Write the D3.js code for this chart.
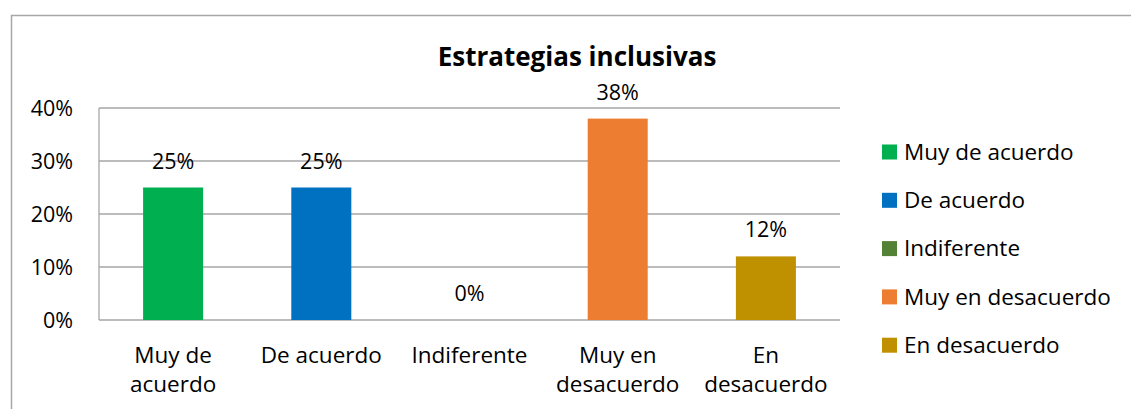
<!DOCTYPE html>
<html><head><meta charset="utf-8">
<script src="https://cdn.jsdelivr.net/npm/d3@7"></script>
<style>body{margin:0;background:#fff}svg{display:block}text{font-family:"Open Sans",sans-serif;fill:#000}</style>
</head><body><svg id="c" width="1131" height="409"></svg>
<script>
const categories = ["Muy de acuerdo","De acuerdo","Indiferente","Muy en desacuerdo","En desacuerdo"];
const axisLabels = [["Muy de","acuerdo"],["De acuerdo"],["Indiferente"],["Muy en","desacuerdo"],["En","desacuerdo"]];
const values = [0.25,0.25,0,0.38,0.12];
const valueLabels = ["25%","25%","0%","38%","12%"];
const colors = ["#00B050","#0070C0","#548235","#ED7D31","#BF9000"];
const yTicks = [0,0.1,0.2,0.3,0.4];
const title = "Estrategias inclusivas";

const svg = d3.select("#c");
const fsNum = 21.5, fsTxt = 22.5;
svg.append("rect").attr("x",11.5).attr("y",15.5).attr("width",1200).attr("height",500)
  .attr("fill","none").attr("stroke","#A6A6A6").attr("stroke-width",1.5);

const x = d3.scaleBand().domain(categories).range([99,840]).paddingInner(0.595).paddingOuter(0.2975);
const y = d3.scaleLinear().domain([0,0.4]).range([320,108]);

const grid = svg.append("g");
grid.selectAll("line").data(yTicks).join("line")
  .attr("x1",99).attr("x2",840).attr("y1",d=>y(d)).attr("y2",d=>y(d))
  .attr("stroke","#A6A6A6").attr("stroke-width",1.3);
svg.append("line").attr("x1",99).attr("x2",99).attr("y1",y(0.4)).attr("y2",y(0))
  .attr("stroke","#A6A6A6").attr("stroke-width",1.3);

svg.append("g").selectAll("text").data(yTicks).join("text")
  .attr("x",73).attr("y",d=>y(d)).attr("dy","0.35em").attr("text-anchor","end")
  .attr("font-size",fsNum).text(d=>d3.format(".0%")(d));

svg.append("g").selectAll("rect").data(values).join("rect")
  .attr("x",(d,i)=>x(categories[i])).attr("width",x.bandwidth())
  .attr("y",d=>y(d)).attr("height",d=>y(0)-y(d)).attr("fill",(d,i)=>colors[i]);

svg.append("g").selectAll("text").data(values).join("text")
  .attr("x",(d,i)=>x(categories[i])+x.bandwidth()/2).attr("y",d=>y(d)-19)
  .attr("text-anchor","middle").attr("font-size",fsNum).text((d,i)=>valueLabels[i]);

const xl = svg.append("g").selectAll("text").data(axisLabels).join("text")
  .attr("x",(d,i)=>x(categories[i])+x.bandwidth()/2).attr("y",363)
  .attr("text-anchor","middle").attr("font-size",fsTxt);
xl.selectAll("tspan").data(d=>d).join("tspan")
  .attr("x",function(){return this.parentNode.getAttribute("x");})
  .attr("dy",(d,j)=>j?29:0).text(d=>d);

svg.append("text").attr("x",577).attr("y",66).attr("text-anchor","middle")
  .attr("font-size",26).attr("font-weight","bold").text(title);

const lg = svg.append("g").selectAll("g").data(categories).join("g")
  .attr("transform",(d,i)=>`translate(882,${152+i*48.3})`);
lg.append("rect").attr("x",0).attr("y",-7.5).attr("width",15).attr("height",15).attr("fill",(d,i)=>colors[i]);
lg.append("text").attr("x",22).attr("dy","0.35em").attr("font-size",fsTxt).text(d=>d);
</script></body></html>
